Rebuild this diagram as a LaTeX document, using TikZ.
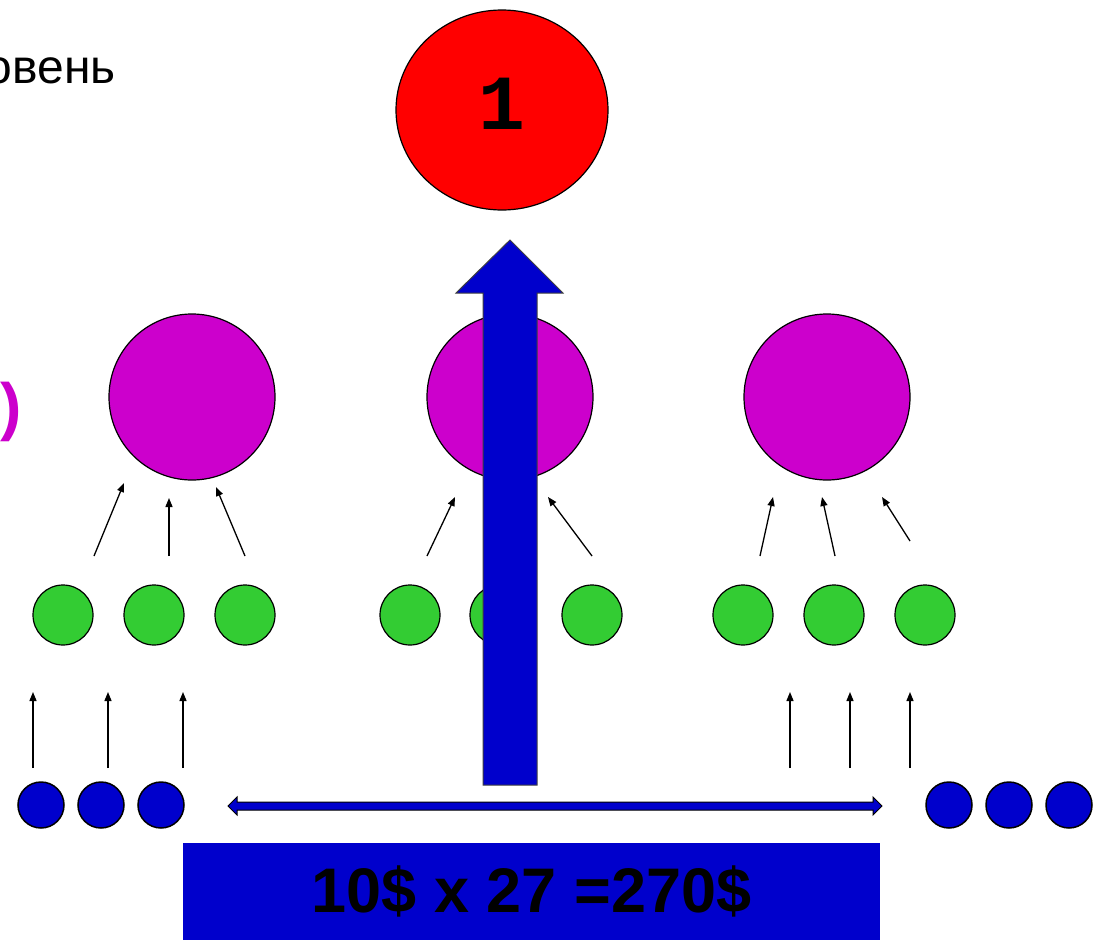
\documentclass[tikz,border=0pt]{standalone}
\usepackage{fontspec}
\setmainfont{Liberation Sans}
\newfontfamily\monofnt{Liberation Mono}
\usetikzlibrary{arrows.meta,shapes.geometric}
\definecolor{myred}{HTML}{FF0000}
\definecolor{mypurple}{HTML}{CC00CC}
\definecolor{mygreen}{HTML}{33CC33}
\definecolor{myblue}{HTML}{0000CC}
\begin{document}
\begin{tikzpicture}[x=1pt,y=-1pt,
  purp/.style={circle,draw=black,line width=1.2pt,fill=mypurple,minimum size=166pt,inner sep=0pt},
  grn/.style={circle,draw=black,line width=1.2pt,fill=mygreen,minimum size=60pt,inner sep=0pt},
  blu/.style={circle,draw=black,line width=1.5pt,fill=myblue,minimum size=46pt,inner sep=0pt},
  thin arrow/.style={line width=1.3pt,-{Triangle[length=9pt,width=7pt]}},
  outl/.style={draw=black!75,line width=1pt,fill=myblue}]
\useasboundingbox (0,0) rectangle (1096,945);
% top text
\node[anchor=base east,inner sep=0pt,font=\fontsize{48}{48}\selectfont] (lvl) at (116,83) {овень};
\node[anchor=east,inner sep=0pt,text=mypurple,font=\bfseries\fontsize{64}{64}\selectfont] (par) at (22,412) {)};
% red ellipse
\node[ellipse,draw=black,line width=1.2pt,fill=myred,minimum width=212pt,minimum height=200pt,inner sep=0pt] (top) at (502,110) {};
\node[inner sep=0pt,font=\monofnt\bfseries\fontsize{78}{78}\selectfont] (one) at (502,104) {1};
% purple circles
\node[purp] (p1) at (192,397) {};
\node[purp] (p2) at (510,397) {};
\node[purp] (p3) at (827,397) {};
% green circles
\foreach \x/\n in {63/g1,154/g2,245/g3,410/g4,500/g5,592/g6,743/g7,834/g8,925/g9}
  \node[grn] (\n) at (\x,615) {};
% arrows green -> purple
\draw[thin arrow] (94,556) -- (124,483);
\draw[thin arrow] (169,556) -- (169,498);
\draw[thin arrow] (245,556) -- (216,487);
\draw[thin arrow] (427,556) -- (455,497);
\draw[thin arrow] (592,556) -- (548,497);
\draw[thin arrow] (760,556) -- (773,497);
\draw[thin arrow] (835,556) -- (822,497);
\draw[thin arrow] (910,541) -- (882,497);
% blue circles
\foreach \x/\n in {41/b1,101/b2,161/b3,949/b4,1009/b5,1069/b6}
  \node[blu] (\n) at (\x,805) {};
% vertical arrows
\foreach \x in {33,108,183,790,850,910}
  \draw[thin arrow] (\x,768) -- (\x,692);
% big arrow
\draw[outl,line join=miter] (483,785) -- (537,785) -- (537,293) -- (563,293) -- (510,240) -- (456,293) -- (483,293) -- cycle;
% double arrow
\draw[draw=black,line width=1pt,fill=myblue,line join=miter] (228,806) -- (237,797) -- (237,802) -- (873,802) -- (873,797) -- (882,806) -- (873,815) -- (873,810) -- (237,810) -- (237,815) -- cycle;
% bottom banner
\node[fill=myblue,minimum width=697pt,minimum height=97pt,inner sep=0pt,anchor=north west] (banner) at (183,843) {};
\node[inner sep=0pt,font=\bfseries\fontsize{63}{63}\selectfont] (calc) at (banner.center) {10\$ x 27 =270\$};
\end{tikzpicture}
\end{document}
